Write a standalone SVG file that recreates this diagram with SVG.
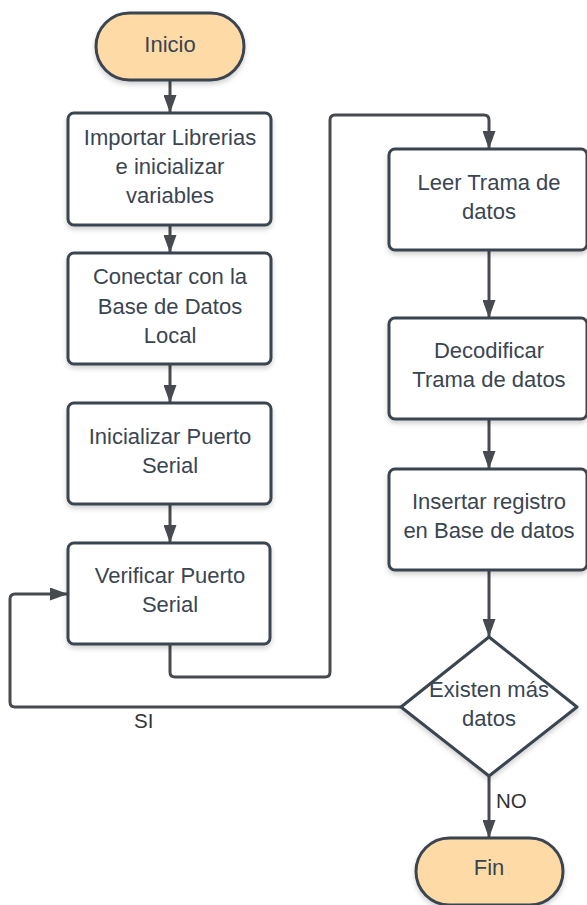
<svg xmlns="http://www.w3.org/2000/svg" width="587" height="905" viewBox="0 0 587 905">
<defs>
<filter id="sh" x="-10%" y="-10%" width="130%" height="130%"><feDropShadow dx="0" dy="3" stdDeviation="2.5" flood-color="#000" flood-opacity="0.18"/></filter>
<marker id="ah" viewBox="0 0 18 13" refX="18" refY="6.5" markerWidth="18" markerHeight="13" orient="auto" markerUnits="userSpaceOnUse"><path d="M0,0 L18,6.5 L0,13 Z" fill="#474b50"/></marker>
<style>
.box{fill:#fff;stroke:#3a4450;stroke-width:3;filter:url(#sh)}
.term{fill:#fedba6;stroke:#3a4450;stroke-width:3;filter:url(#sh)}
.t{font-family:"Liberation Sans",Arial,sans-serif;font-size:22px;fill:#3a4552;text-anchor:middle}
.l{font-family:"Liberation Sans",Arial,sans-serif;font-size:20.5px;fill:#333}
.c{fill:none;stroke:#474b50;stroke-width:3;stroke-linejoin:round}
</style>
</defs>
<g id="connectors">
<path class="c" d="M170,80 V113" marker-end="url(#ah)"/>
<path class="c" d="M170,225 V253" marker-end="url(#ah)"/>
<path class="c" d="M170,364 V403" marker-end="url(#ah)"/>
<path class="c" d="M170,504 V543" marker-end="url(#ah)"/>
<path class="c" d="M170,644 V672 Q170,677 175,677 H325 Q330,677 330,672 V120 Q330,115 335,115 H484 Q489,115 489,120 V149" marker-end="url(#ah)"/>
<path class="c" d="M489,250 V318" marker-end="url(#ah)"/>
<path class="c" d="M489,419 V469" marker-end="url(#ah)"/>
<path class="c" d="M489,570 V637" marker-end="url(#ah)"/>
<path class="c" d="M489,776 V838" marker-end="url(#ah)"/>
<path class="c" d="M401,707 H15 Q10,707 10,702 V599 Q10,594 15,594 H68" marker-end="url(#ah)"/>
<text class="l" x="134" y="728">SI</text>
<text class="l" x="496" y="808">NO</text>
</g>
<g id="inicio"><rect class="term" x="96" y="13" width="148" height="67" rx="33.5"/><text class="t" x="170" y="52">Inicio</text></g>
<g id="importar"><rect class="box" x="68" y="113" width="203" height="112" rx="6"/><text class="t" x="170" y="145">Importar Librerias</text><text class="t" x="170" y="174">e inicializar</text><text class="t" x="170" y="203">variables</text></g>
<g id="conectar"><rect class="box" x="68" y="253" width="203" height="111" rx="6"/><text class="t" x="170" y="284">Conectar con la</text><text class="t" x="170" y="314">Base de Datos</text><text class="t" x="170" y="343">Local</text></g>
<g id="inicializar"><rect class="box" x="68" y="403" width="203" height="101" rx="6"/><text class="t" x="170" y="444">Inicializar Puerto</text><text class="t" x="170" y="473">Serial</text></g>
<g id="verificar"><rect class="box" x="68" y="543" width="202" height="101" rx="6"/><text class="t" x="170" y="583">Verificar Puerto</text><text class="t" x="170" y="612">Serial</text></g>
<g id="leer"><rect class="box" x="389" y="149" width="198" height="101" rx="6"/><text class="t" x="489" y="190">Leer Trama de</text><text class="t" x="489" y="219">datos</text></g>
<g id="decodificar"><rect class="box" x="389" y="318" width="198" height="101" rx="6"/><text class="t" x="489" y="358">Decodificar</text><text class="t" x="489" y="387">Trama de datos</text></g>
<g id="insertar"><rect class="box" x="389" y="469" width="198" height="101" rx="6"/><text class="t" x="489" y="509">Insertar registro</text><text class="t" x="489" y="538">en Base de datos</text></g>
<g id="decision"><path class="box" d="M489,637 L577,707 L489,776 L401,707 Z" stroke-linejoin="round"/><text class="t" x="489" y="697">Existen más</text><text class="t" x="489" y="726">datos</text></g>
<g id="fin"><rect class="term" x="416" y="838" width="147" height="67" rx="33.5"/><text class="t" x="489" y="875">Fin</text></g>
</svg>
